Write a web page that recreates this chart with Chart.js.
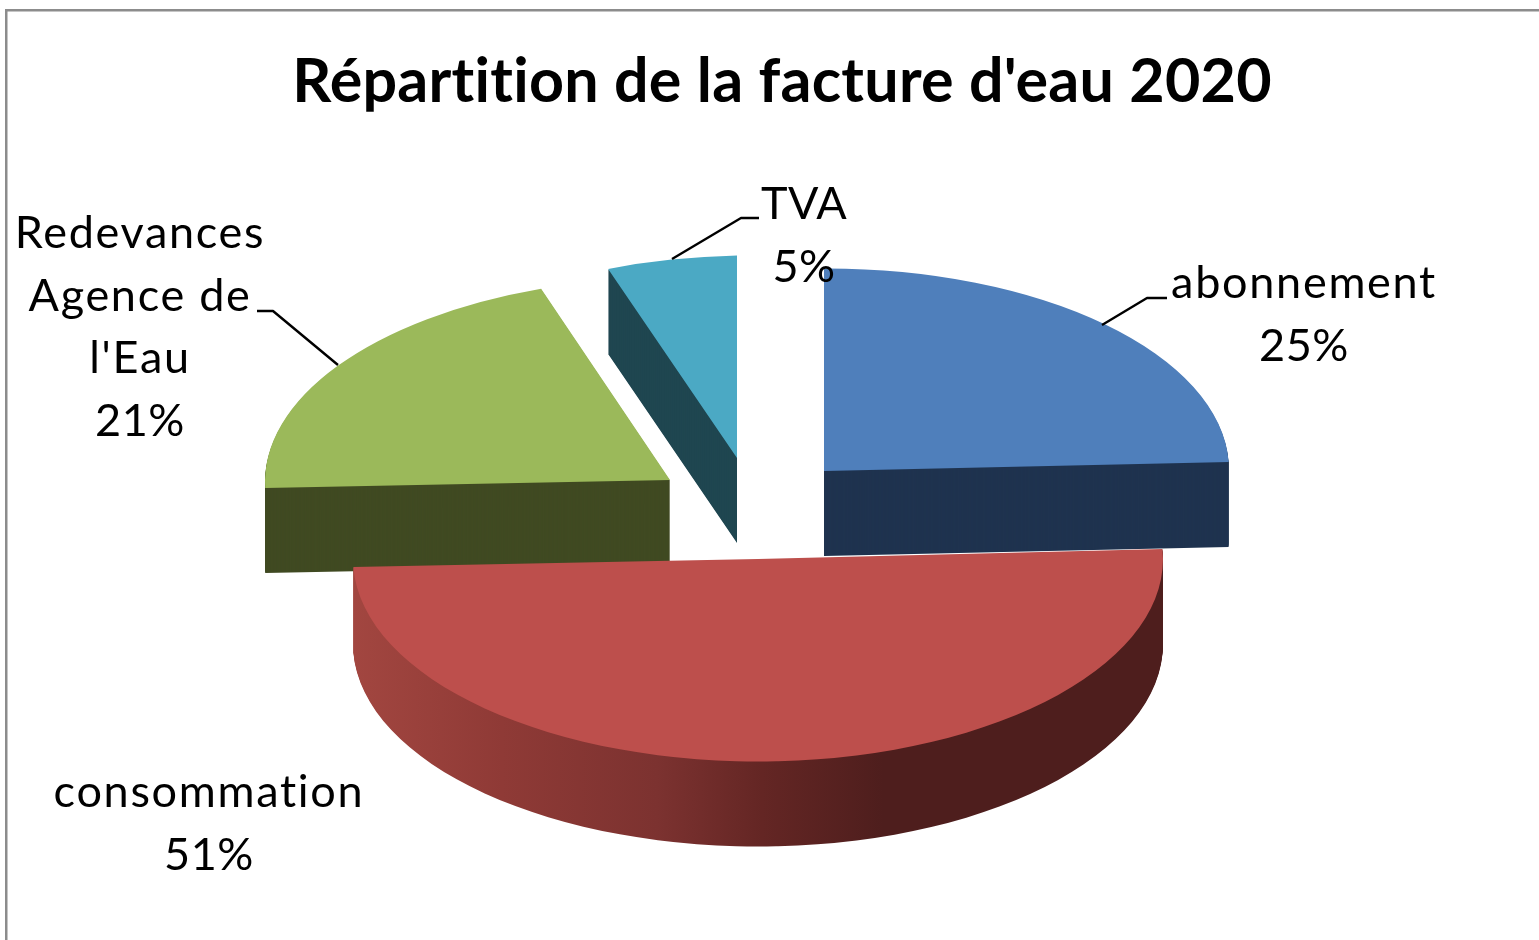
<!DOCTYPE html>
<html lang="fr">
<head>
<meta charset="utf-8">
<title>Répartition de la facture d'eau 2020</title>
<script src="https://cdn.jsdelivr.net/npm/chart.js@4"></script>
<style>
html,body{margin:0;padding:0;background:#fff;overflow:hidden}
#wrap{width:1539px;height:940px}
canvas{display:block}
</style>
</head>
<body>
<div id="wrap"><canvas id="c" width="1539" height="940"></canvas></div>
<script>
const chartTitle = "Répartition de la facture d'eau 2020";
const categories = ["abonnement", "consommation", "Redevances Agence de l'Eau", "TVA"];
const values = [24.6, 50.6, 20.5, 5.2];
const topColors = ["#4F7FBB", "#BD4F4C", "#9BB95A", "#4BA9C4"];
const wallColors = ["#1F334F", null, "#404A22", "#1F4650"];

/* 3D look: screen apex of each exploded slice, shear, turn (deg) */
const sliceApex = [[824, 471], [758, 559], [670, 480], [737, 458]];
const sliceTilt = [-0.003, 0, -0.005, -0.0225];
const sliceTurn = [0, -0.6, 0, 0];
const squash = 0.5;
const depth = 85;
const drawOrder = [3, 2, 0, 1];
const redWallStops = [[0, "#A24640"], [0.18, "#8F3A36"], [0.37, "#7C3230"], [0.5, "#642624"], [0.65, "#4E1E1D"], [1, "#4E1E1D"]];

/* Label layout */
const labelFont = '45px Lato';
const nameSpacing = ['1.7px', '1.7px', '1.7px', '0.3px'];
const percentSpacing = '0.5px';
const titleSpacing = '0.25px';
const lineGap = 62.7;
const labelLines = [["abonnement"], ["consommation"], ["Redevances", "Agence de", "l'Eau"], ["TVA"]];
const labelAnchors = [[1304, 283.5], [209, 792.5], [140, 233.5], [804, 204.5]];
const leaders = [
  [[1167, 298], [1147, 298], [1102, 325]],
  null,
  [[257, 311], [273, 311], [338, 365]],
  [[759, 218], [741, 218], [672, 259]]
];

const pie3d = {
  id: 'pie3d',
  beforeDraw(chart) {
    const ctx = chart.ctx;
    ctx.save();
    ctx.strokeStyle = '#8C8C8C';
    ctx.lineWidth = 2.5;
    ctx.beginPath();
    ctx.moveTo(6.25, 940);
    ctx.lineTo(6.25, 10.25);
    ctx.lineTo(1539, 10.25);
    ctx.stroke();
    ctx.restore();
    ctx.letterSpacing = titleSpacing;
  },
  beforeDatasetDraw(chart, args) {
    const ctx = chart.ctx;
    const arcs = args.meta.data;
    const place = (arc, k, shiftY) => {
      ctx.setTransform(1, 0, 0, 1, 0, 0);
      ctx.translate(sliceApex[k][0], sliceApex[k][1] + shiftY);
      ctx.transform(1, sliceTilt[k], 0, squash, 0, 0);
      ctx.rotate(sliceTurn[k] * Math.PI / 180);
      ctx.translate(-arc.x, -arc.y);
    };
    ctx.save();
    for (const k of drawOrder) {
      const arc = arcs[k];
      const saved = arc.options;
      let wall = wallColors[k];
      if (!wall) {
        wall = ctx.createLinearGradient(arc.x - 405, 0, arc.x + 405, 0);
        redWallStops.forEach(s => wall.addColorStop(s[0], s[1]));
      }
      arc.options = {...saved, backgroundColor: wall, borderColor: wall};
      for (let i = depth; i >= 1; i--) {
        place(arc, k, i);
        arc.draw(ctx);
      }
      arc.options = saved;
      place(arc, k, 0);
      arc.draw(ctx);
    }
    ctx.restore();
    return false;
  },
  afterDraw(chart) {
    const ctx = chart.ctx;
    ctx.save();
    ctx.setTransform(1, 0, 0, 1, 0, 0);
    ctx.strokeStyle = '#000';
    ctx.lineWidth = 2.4;
    ctx.lineJoin = 'round';
    leaders.forEach(pts => {
      if (!pts) return;
      ctx.beginPath();
      pts.forEach((p, i) => i ? ctx.lineTo(p[0], p[1]) : ctx.moveTo(p[0], p[1]));
      ctx.stroke();
    });
    ctx.fillStyle = '#000';
    ctx.font = labelFont;
    ctx.textAlign = 'center';
    ctx.textBaseline = 'middle';
    categories.forEach((name, k) => {
      const x = labelAnchors[k][0];
      const y = labelAnchors[k][1];
      ctx.letterSpacing = nameSpacing[k];
      labelLines[k].forEach((t, j) => ctx.fillText(t, x, y + j * lineGap));
      ctx.letterSpacing = percentSpacing;
      ctx.fillText(Math.round(values[k]) + '%', x, y + labelLines[k].length * lineGap);
    });
    ctx.restore();
  }
};

new Chart(document.getElementById('c'), {
  type: 'pie',
  data: {
    labels: categories,
    datasets: [{
      data: values,
      backgroundColor: topColors,
      borderWidth: 0,
      radius: 405
    }]
  },
  options: {
    responsive: false,
    animation: false,
    events: [],
    rotation: 0,
    layout: {padding: {left: 25}},
    plugins: {
      legend: {display: false},
      tooltip: {enabled: false},
      title: {
        display: true,
        text: chartTitle,
        color: '#000',
        font: {family: 'Lato', size: 61, weight: 'bold', lineHeight: 1.2},
        padding: {top: 46, bottom: 0}
      }
    }
  },
  plugins: [pie3d]
});
</script>
</body>
</html>
